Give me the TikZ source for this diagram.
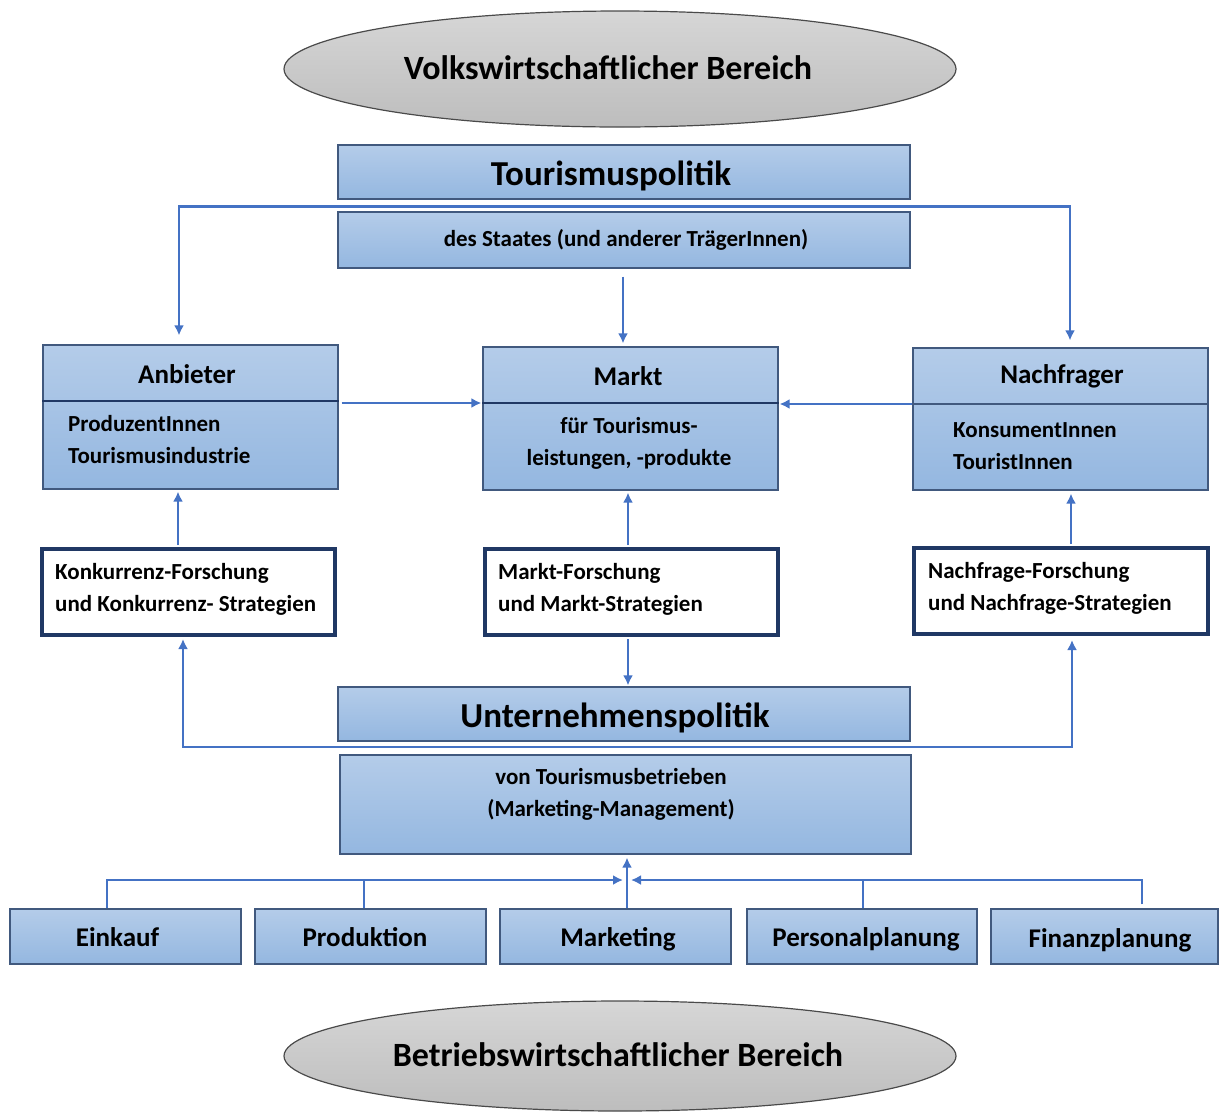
\documentclass[tikz,border=0pt]{standalone}
\usepackage{fontspec}
\setmainfont{Carlito}
\usetikzlibrary{shapes.geometric,arrows.meta,calc}

\definecolor{boxtop}{HTML}{B4CCE9}
\definecolor{boxbot}{HTML}{94B7E0}
\definecolor{boxline}{HTML}{41597E}
\definecolor{navy}{HTML}{203864}
\definecolor{linkblue}{HTML}{4472C4}
\definecolor{elltop}{HTML}{D6D6D6}
\definecolor{ellbot}{HTML}{BDBDBD}
\definecolor{ellline}{HTML}{4A4A4A}

\tikzset{
  fs/.style={font=\fontsize{#1}{#1}\selectfont\bfseries},
  body/.style={inner sep=0pt, font=\fontsize{23}{32}\selectfont\bfseries},
  bluebox/.style={rectangle, draw=boxline, line width=1.2pt, top color=boxtop, bottom color=boxbot,
                  inner sep=0pt, text=black},
  rowbox/.style={bluebox, minimum height=55pt},
  rowtext/.style={fs=27, inner sep=0pt, text height=19pt, text depth=6pt},
  framebox/.style={rectangle, draw=navy, line width=4pt, fill=white, inner sep=0pt},
  area/.style={ellipse, draw=ellline, line width=1.2pt, top color=elltop, bottom color=ellbot,
               inner sep=0pt, minimum width=672pt},
  divider/.style={draw=navy, line width=2pt},
  conn/.style={draw=linkblue, line width=2.8pt},
  tip/.style={-{Latex[length=10pt,width=10pt]}},
  twotip/.style={{Latex[length=10pt,width=10pt]}-{Latex[length=10pt,width=10pt]}},
}

\begin{document}
\begin{tikzpicture}[x=1pt,y=-1pt]
\useasboundingbox (0,0) rectangle (1219,1112);

% areas
\node[area, minimum height=116pt] (vw) at (620,69) {};
\node[fs=34, inner sep=0pt] (vwT) at (608,68) {Volkswirtschaftlicher Bereich};
\node[area, minimum height=110pt] (bw) at (620,1056) {};
\node[fs=34, inner sep=0pt] (bwT) at (618,1055) {Betriebswirtschaftlicher Bereich};

% tourism policy
\node[bluebox, minimum width=572pt, minimum height=54pt] (tp) at (624,172) {};
\node[fs=35, inner sep=0pt] (tpT) at (611,176) {Tourismuspolitik};
\node[bluebox, minimum width=572pt, minimum height=56pt] (st) at (624,240) {};
\node[fs=23, inner sep=0pt] (stT) at (626,240) {des Staates (und anderer TrägerInnen)};

% market actors
\node[bluebox, minimum width=295pt, minimum height=144pt] (anb) at (190.5,417) {};
\draw[divider] (anb.west |- 0,401) -- (anb.east |- 0,401);
\node[fs=27, inner sep=0pt] (anbH) at (187,374) {Anbieter};
\node[body, anchor=west, align=left] (anbB) at (68,440)
  {ProduzentInnen\\Tourismusindustrie};

\node[bluebox, minimum width=295pt, minimum height=143pt] (mkt) at (630.5,418.5) {};
\draw[divider] (mkt.west |- 0,403) -- (mkt.east |- 0,403);
\node[fs=27, inner sep=0pt] (mktH) at (628,376) {Markt};
\node[body, align=center] (mktB) at (629,443)
  {für Tourismus-\\leistungen, -produkte};

\node[bluebox, minimum width=295pt, minimum height=142pt] (nach) at (1060.5,419) {};
\draw[boxline, line width=1.2pt] (nach.west |- 0,404) -- (nach.east |- 0,404);
\node[fs=27, inner sep=0pt] (nachH) at (1062,376) {Nachfrager};
\node[body, anchor=west, align=left] (nachB) at (953,446)
  {KonsumentInnen\\TouristInnen};

% research and strategies
\node[framebox, minimum width=293pt, minimum height=86pt] (konk) at (188.5,592) {};
\node[body, anchor=west, align=left] (konkT) at (55,589)
  {Konkurrenz-Forschung\\und Konkurrenz- Strategien};
\node[framebox, minimum width=293pt, minimum height=86pt] (mfo) at (631.5,592) {};
\node[body, anchor=west, align=left] (mfoT) at (498,589)
  {Markt-Forschung\\und Markt-Strategien};
\node[framebox, minimum width=294pt, minimum height=86pt] (nfo) at (1061,591) {};
\node[body, anchor=west, align=left] (nfoT) at (928,588)
  {Nachfrage-Forschung\\und Nachfrage-Strategien};

% company policy
\node[bluebox, minimum width=572pt, minimum height=54pt] (up) at (624,714) {};
\node[fs=35, inner sep=0pt] (upT) at (615,718) {Unternehmenspolitik};
\node[bluebox, minimum width=571pt, minimum height=99pt] (vt) at (625.5,804.5) {};
\node[body, align=center] (vtT) at (611,794)
  {von Tourismusbetrieben\\(Marketing-Management)};

% business functions
\node[rowbox, minimum width=231pt] (ein) at (125.5,936.5) {};
\node[rowtext] (einT) at (117.5,940) {Einkauf};
\node[rowbox, minimum width=231pt] (pro) at (370.5,936.5) {};
\node[rowtext] (proT) at (365,940) {Produktion};
\node[rowbox, minimum width=231pt] (mar) at (615.5,936.5) {};
\node[rowtext] (marT) at (618,940) {Marketing};
\node[rowbox, minimum width=230pt] (per) at (862,936.5) {};
\node[rowtext] (perT) at (866,940) {Personalplanung};
\node[rowbox, minimum width=227pt] (fin) at (1104.5,936.5) {};
\node[rowtext] (finT) at (1110,941) {Finanzplanung};

% routing points
\coordinate (tpL) at (179,206.5);
\coordinate (tpR) at (1070,206.5);
\coordinate (upL) at (183,747);
\coordinate (upR) at (1072,747);
\coordinate (colA) at (178,0);
\coordinate (colM) at (628,0);
\coordinate (colN) at (1071,0);
\coordinate (rowA) at (0,403);
\coordinate (rowN) at (0,404);
\coordinate (bj) at (627,880);
\coordinate (bE) at (107,880);
\coordinate (bP) at (364,880);
\coordinate (bPe) at (863,880);
\coordinate (bF) at (1142,880);

% connectors
\draw[conn, twotip, shorten <=9pt, shorten >=7pt]
  (tpL |- anb.north) -- (tpL) -- (tpR) -- (tpR |- nach.north);
\draw[conn, tip, shorten <=8pt, shorten >=3pt] (st.south -| 623,0) -- (mkt.north -| 623,0);
\draw[conn, tip, shorten <=3pt, shorten >=1pt] (anb.east |- rowA) -- (mkt.west |- rowA);
\draw[conn, tip, shorten >=1pt] (nach.west |- rowN) -- (mkt.east |- rowN);

\draw[conn, tip, shorten <=2pt, shorten >=2pt] (konk.north -| colA) -- (anb.south -| colA);
\draw[conn, tip, shorten <=2pt, shorten >=2pt] (mfo.north -| colM) -- (mkt.south -| colM);
\draw[conn, tip, shorten <=2pt, shorten >=3pt] (nfo.north -| colN) -- (nach.south -| colN);
\draw[conn, tip, shorten <=2pt, shorten >=1pt] (mfo.south -| colM) -- (up.north -| colM);

\draw[conn, twotip, shorten <=2pt, shorten >=4pt]
  (upL |- konk.south) -- (upL) -- (upR) -- (upR |- nfo.south);

\draw[conn, tip] (bE |- ein.north) -- (bE) -- ([xshift=-4pt]bj);
\draw[conn] (bP |- pro.north) -- (bP);
\draw[conn, tip, shorten <=4pt] (bF |- fin.north) -- (bF) -- ([xshift=4pt]bj);
\draw[conn] (bPe |- per.north) -- (bPe);
\draw[conn, tip, shorten >=3pt] (mar.north -| bj) -- (vt.south -| bj);
\end{tikzpicture}
\end{document}
